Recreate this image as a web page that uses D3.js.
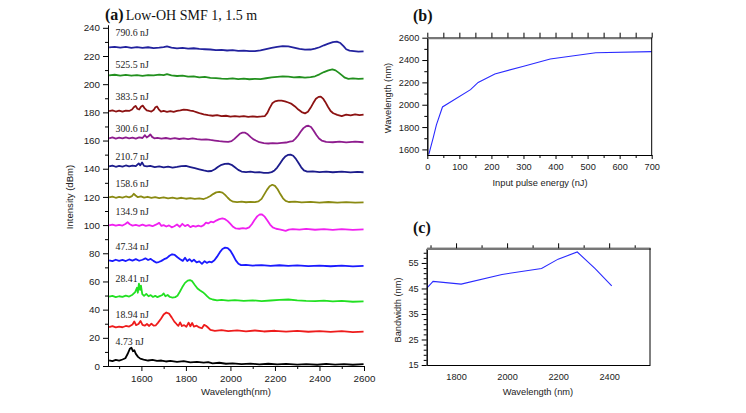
<!DOCTYPE html>
<html>
<head>
<meta charset="utf-8">
<script src="https://cdn.jsdelivr.net/npm/d3@7"></script>
<style>
  html, body { margin: 0; padding: 0; background: #fff; }
  svg { display: block; }
</style>
</head>
<body>
<svg id="chart" width="746" height="413"></svg>
<script>
// ---------------- DATA ----------------
// Panel (a): spectra, [wavelength nm, intensity dBm (offset)]
const energyLabels = ["790.6 nJ","525.5 nJ","383.5 nJ","300.6 nJ","210.7 nJ","158.6 nJ","134.9 nJ","47.34 nJ","28.41 nJ","18.94 nJ","4.73 nJ"];
const labelLevels = [236.4, 213.8, 191.2, 168.6, 148.8, 129.3, 109.4, 84.6, 62.1, 36.9, 17.2];
const seriesColors = ["#22229e","#22901e","#8c1212","#8e1c8e","#1c1c8c","#8a8a12","#f020f0","#1a1aff","#22e022","#ee1c1c","#000000"];

const s790_6 = [[1455,226.1],[1480,226.5],[1505,225.9],[1530,226.4],[1555,225.8],[1580,226.3],[1605,225.7],[1630,226.2],[1655,225.6],[1680,225.9],[1700,226.3],[1715,226.8],[1735,225.9],[1760,225.4],[1785,225.7],[1810,225.2],[1835,225.5],[1860,225.0],[1885,224.8],[1910,224.6],[1935,224.2],[1960,224.4],[1985,223.9],[2010,224.1],[2035,223.6],[2060,223.8],[2085,223.4],[2110,223.4],[2135,224.0],[2160,224.9],[2185,225.8],[2210,226.5],[2235,227.0],[2260,226.8],[2285,226.0],[2310,225.0],[2335,224.5],[2360,224.6],[2380,225.2],[2400,226.2],[2420,227.6],[2440,228.8],[2460,229.8],[2478,230.2],[2494,229.2],[2508,227.0],[2520,224.8],[2535,223.8],[2555,223.5],[2575,223.1],[2598,223.3]];
const s525_5 = [[1455,206.3],[1480,206.7],[1505,206.1],[1530,206.6],[1555,206.0],[1580,206.4],[1605,205.9],[1630,206.5],[1655,206.2],[1680,206.8],[1700,206.4],[1715,207.1],[1735,206.2],[1760,205.8],[1785,206.1],[1810,205.4],[1835,205.6],[1860,204.9],[1885,205.2],[1910,204.5],[1935,204.3],[1960,204.0],[1985,203.8],[2010,204.1],[2035,203.6],[2060,203.9],[2085,203.5],[2110,203.8],[2135,203.6],[2160,204.2],[2185,204.8],[2210,205.2],[2235,205.5],[2260,205.3],[2285,204.9],[2310,205.1],[2335,204.7],[2360,205.0],[2380,205.6],[2400,207.0],[2420,208.6],[2440,209.8],[2458,210.5],[2472,209.8],[2486,208.2],[2500,206.4],[2514,204.6],[2530,203.8],[2550,204.1],[2575,203.7],[2598,203.9]];
const s383_5 = [[1455,180.8],[1470,181.4],[1485,180.6],[1500,181.2],[1515,180.5],[1530,181.3],[1545,181.0],[1558,182.0],[1566,183.6],[1574,184.6],[1582,182.6],[1590,182.0],[1598,184.0],[1606,184.8],[1614,183.0],[1624,181.4],[1634,181.0],[1645,180.6],[1655,181.6],[1663,183.6],[1670,184.2],[1678,182.2],[1688,180.6],[1700,181.0],[1715,180.4],[1730,180.9],[1745,180.3],[1760,181.0],[1775,181.4],[1790,181.9],[1805,181.7],[1820,181.2],[1835,180.8],[1850,180.0],[1865,179.2],[1880,178.6],[1900,178.0],[1920,177.6],[1940,178.0],[1960,177.3],[1980,177.6],[2000,177.0],[2020,177.4],[2040,176.9],[2060,177.3],[2080,176.8],[2100,177.2],[2120,176.8],[2140,177.1],[2155,177.4],[2166,179.6],[2176,183.0],[2188,186.4],[2200,187.8],[2215,188.4],[2230,188.3],[2245,187.8],[2260,187.0],[2275,186.0],[2290,184.2],[2305,182.0],[2320,180.2],[2335,179.3],[2348,180.4],[2360,183.2],[2372,186.6],[2384,189.6],[2396,191.0],[2406,191.2],[2416,189.8],[2426,187.4],[2438,184.0],[2450,181.0],[2462,179.4],[2480,178.2],[2500,177.4],[2520,178.4],[2540,177.8],[2560,178.6],[2580,178.0],[2598,178.4]];
const s300_6 = [[1455,161.6],[1470,162.2],[1485,161.4],[1500,162.1],[1515,161.5],[1530,162.3],[1545,161.6],[1560,162.0],[1575,161.4],[1590,162.2],[1605,161.8],[1616,163.8],[1624,162.2],[1632,163.0],[1640,164.4],[1648,162.6],[1658,161.6],[1672,161.9],[1690,161.3],[1710,161.8],[1730,161.2],[1750,161.7],[1770,161.1],[1790,161.6],[1810,161.0],[1830,161.5],[1850,161.0],[1870,160.6],[1890,160.9],[1910,160.4],[1930,160.0],[1950,159.6],[1970,159.3],[1990,159.0],[2005,159.6],[2018,161.2],[2030,163.0],[2042,164.8],[2054,165.6],[2066,165.6],[2078,164.4],[2090,162.6],[2102,161.0],[2114,160.0],[2130,158.8],[2150,158.2],[2170,157.9],[2190,158.2],[2210,158.0],[2230,158.4],[2250,158.6],[2266,159.2],[2280,159.6],[2292,161.4],[2304,163.6],[2316,166.4],[2328,168.8],[2340,170.2],[2350,170.5],[2362,169.6],[2374,167.0],[2386,164.0],[2398,161.4],[2410,160.0],[2430,159.0],[2460,158.8],[2490,159.3],[2520,158.7],[2560,159.2],[2598,158.8]];
const s210_7 = [[1455,141.6],[1470,142.2],[1485,141.4],[1500,142.0],[1515,141.5],[1530,142.3],[1545,141.6],[1560,142.2],[1575,141.8],[1588,143.8],[1595,142.4],[1603,144.4],[1612,142.0],[1625,141.6],[1640,142.0],[1660,141.2],[1680,141.7],[1700,141.0],[1720,141.5],[1740,140.8],[1760,141.3],[1780,141.9],[1800,142.0],[1820,141.2],[1840,140.4],[1860,139.6],[1880,138.8],[1900,138.2],[1915,138.4],[1930,139.6],[1945,141.4],[1960,142.8],[1975,143.5],[1990,143.6],[2005,142.8],[2020,141.0],[2035,139.2],[2050,138.0],[2070,137.6],[2090,137.9],[2110,137.4],[2130,137.6],[2150,137.1],[2170,137.0],[2185,137.6],[2198,138.8],[2210,140.8],[2222,143.6],[2234,146.4],[2246,148.6],[2258,149.8],[2270,150.0],[2282,149.2],[2294,147.0],[2306,144.0],[2318,141.0],[2330,138.8],[2345,137.9],[2370,138.1],[2400,137.6],[2430,138.0],[2460,137.5],[2500,137.9],[2540,137.4],[2570,137.8],[2598,137.5]];
const s158_6 = [[1455,119.6],[1470,120.2],[1485,119.4],[1500,120.0],[1515,119.5],[1530,120.3],[1545,119.7],[1558,120.6],[1566,122.2],[1574,121.0],[1584,119.8],[1598,120.4],[1612,119.5],[1628,120.1],[1645,119.3],[1662,119.9],[1680,119.2],[1700,119.7],[1720,119.0],[1740,119.5],[1760,118.8],[1780,119.4],[1800,118.7],[1820,119.2],[1840,118.6],[1860,118.9],[1880,118.5],[1895,119.4],[1910,120.6],[1922,122.0],[1936,123.2],[1950,123.6],[1964,123.0],[1976,121.4],[1988,119.4],[2000,117.6],[2012,116.6],[2030,116.3],[2050,116.6],[2070,116.2],[2090,116.5],[2110,116.3],[2126,116.8],[2140,118.6],[2152,121.8],[2164,125.0],[2176,127.6],[2188,128.6],[2200,127.8],[2212,125.4],[2224,122.0],[2236,119.0],[2248,117.2],[2262,116.4],[2290,116.6],[2320,116.1],[2360,116.5],[2400,116.0],[2440,116.4],[2480,115.9],[2520,116.3],[2560,115.9],[2598,116.1]];
const s134_9 = [[1455,99.8],[1470,100.4],[1485,99.6],[1500,100.2],[1515,99.7],[1528,100.8],[1538,102.0],[1548,100.6],[1560,99.6],[1575,100.1],[1590,99.5],[1605,100.3],[1620,99.4],[1635,100.0],[1650,99.2],[1665,100.3],[1680,101.6],[1690,99.4],[1700,100.0],[1712,99.0],[1724,99.8],[1736,98.4],[1748,99.2],[1760,100.4],[1772,98.8],[1784,100.9],[1796,99.3],[1808,100.2],[1820,98.6],[1832,99.4],[1844,98.9],[1856,99.6],[1868,99.0],[1880,100.0],[1890,101.8],[1900,101.2],[1912,102.4],[1924,102.0],[1936,103.2],[1950,104.2],[1964,104.7],[1976,104.2],[1988,102.8],[2000,100.8],[2012,98.8],[2024,97.6],[2040,97.4],[2056,97.8],[2070,97.5],[2084,98.4],[2096,100.6],[2108,103.6],[2120,106.2],[2132,107.6],[2142,107.5],[2154,106.0],[2166,103.2],[2178,100.4],[2190,98.4],[2205,97.4],[2220,97.0],[2235,96.4],[2248,95.9],[2262,96.8],[2280,97.2],[2310,96.8],[2340,97.3],[2380,96.7],[2420,97.2],[2460,96.6],[2500,97.1],[2550,96.6],[2598,96.9]];
const s47_34 = [[1455,75.0],[1470,74.4],[1485,75.4],[1500,74.6],[1515,75.3],[1530,74.5],[1545,75.6],[1560,74.8],[1575,75.8],[1590,74.7],[1605,75.4],[1618,76.4],[1630,75.2],[1642,76.0],[1654,74.6],[1666,73.4],[1678,73.8],[1690,74.6],[1702,75.8],[1714,76.6],[1726,78.2],[1738,79.3],[1750,78.8],[1762,77.2],[1774,75.8],[1786,74.6],[1796,76.8],[1806,74.5],[1816,75.8],[1826,74.2],[1836,75.4],[1848,73.6],[1860,74.2],[1872,72.5],[1884,74.4],[1894,73.2],[1904,74.0],[1916,73.6],[1928,75.0],[1940,77.6],[1952,80.6],[1964,83.0],[1976,84.0],[1988,83.6],[2000,81.8],[2012,78.6],[2024,75.0],[2036,72.6],[2048,71.6],[2070,71.8],[2100,71.3],[2140,71.6],[2180,71.1],[2220,71.5],[2260,71.0],[2300,71.4],[2350,70.9],[2400,71.3],[2450,70.8],[2500,71.2],[2550,70.7],[2598,71.0]];
const s28_41 = [[1455,49.2],[1470,49.8],[1485,48.9],[1500,49.5],[1515,49.0],[1530,49.9],[1545,49.3],[1560,50.6],[1572,52.5],[1580,55.5],[1584,52.0],[1589,58.5],[1594,54.0],[1598,57.0],[1604,51.0],[1612,49.8],[1622,51.2],[1632,49.5],[1642,50.3],[1652,49.0],[1662,49.8],[1672,48.9],[1682,49.6],[1692,50.2],[1700,51.5],[1708,49.5],[1718,50.4],[1728,49.0],[1740,48.6],[1752,48.9],[1762,49.8],[1772,52.5],[1784,56.0],[1796,59.0],[1808,60.6],[1818,61.0],[1828,60.2],[1840,57.5],[1852,55.0],[1864,53.6],[1876,52.4],[1886,51.0],[1896,49.4],[1906,48.0],[1920,47.2],[1940,46.6],[1960,47.0],[1990,46.4],[2020,46.8],[2060,46.2],[2100,46.6],[2140,46.1],[2180,46.5],[2220,46.9],[2260,47.2],[2300,46.6],[2340,46.2],[2380,46.0],[2420,46.4],[2460,45.8],[2500,46.2],[2550,45.6],[2598,45.9]];
const s18_94 = [[1455,27.6],[1470,28.3],[1485,27.4],[1500,28.0],[1515,27.5],[1530,28.4],[1545,28.0],[1560,29.5],[1568,31.6],[1576,29.0],[1587,29.8],[1596,32.0],[1605,29.2],[1615,28.6],[1625,29.8],[1635,28.4],[1645,30.0],[1655,28.6],[1665,28.9],[1675,30.8],[1688,33.5],[1700,36.5],[1712,38.0],[1724,37.2],[1736,34.5],[1748,31.5],[1758,29.8],[1766,28.5],[1774,31.0],[1782,28.4],[1792,29.0],[1802,27.8],[1812,30.8],[1820,28.2],[1828,30.5],[1836,28.0],[1848,28.6],[1860,27.4],[1872,26.8],[1882,29.2],[1890,28.6],[1898,27.5],[1910,25.6],[1930,25.0],[1960,25.4],[1990,24.8],[2030,25.3],[2070,24.6],[2110,25.2],[2150,24.5],[2200,25.0],[2250,24.4],[2300,24.9],[2350,24.3],[2400,24.8],[2450,24.2],[2500,24.7],[2550,24.1],[2598,24.4]];
const s4_73 = [[1455,4.0],[1470,3.4],[1485,4.3],[1500,3.8],[1515,4.6],[1528,5.5],[1538,8.5],[1548,12.2],[1555,13.0],[1562,10.5],[1568,11.2],[1575,8.6],[1585,6.5],[1595,5.2],[1610,4.6],[1630,3.9],[1650,4.4],[1670,3.6],[1690,3.9],[1710,3.2],[1730,3.6],[1760,2.9],[1790,3.4],[1820,2.6],[1850,3.0],[1880,2.4],[1900,2.8],[1920,1.9],[1950,2.3],[1980,1.6],[2010,1.9],[2050,1.3],[2090,1.7],[2130,1.2],[2170,1.6],[2210,1.1],[2250,1.5],[2300,1.0],[2340,1.4],[2390,0.9],[2430,1.5],[2470,1.0],[2510,1.4],[2550,0.9],[2598,1.3]];
const spectra = [s790_6, s525_5, s383_5, s300_6, s210_7, s158_6, s134_9, s47_34, s28_41, s18_94, s4_73];

const aYTicks = [0,20,40,60,80,100,120,140,160,180,200,220,240];
const aXTicks = [1600,1800,2000,2200,2400,2600];

// Panel (b): peak wavelength vs input pulse energy
const pulseEnergy = [4.73, 18.94, 28.41, 47.34, 134.9, 158.6, 210.7, 300.6, 383.5, 525.5, 790.6];
const peakWavelength = [1555, 1710, 1820, 1980, 2135, 2200, 2275, 2345, 2410, 2465, 2480];
const bXTicks = [0,100,200,300,400,500,600,700];
const bYTicks = [1600,1800,2000,2200,2400,2600];

// Panel (c): bandwidth vs wavelength
const cWavelength = [1555, 1710, 1820, 1980, 2135, 2200, 2275, 2345, 2410];
const cBandwidth = [31, 47.8, 46.7, 50.5, 52.8, 56.5, 59.3, 52.8, 46];
const cXTicks = [1800,2000,2200,2400];
const cYTicks = [15,25,35,45,55];

// ---------------- DRAW ----------------
const svg = d3.select("#chart");
const sans = '"Liberation Sans", Arial, sans-serif';
const serif = '"Liberation Serif", "Times New Roman", serif';
const fmt = d3.format("d");

function styleAxis(g, fs) {
  g.selectAll("path.domain").attr("stroke", "#000").attr("stroke-width", 1);
  g.selectAll(".tick line").attr("stroke", "#000");
  g.selectAll(".tick text").style("font-size", fs + "px").style("font-family", sans).attr("fill", "#222");
}
const noLabel = () => "";

// ===== Panel (a) =====
const xA = d3.scaleLinear().domain([1450, 2600]).range([108, 364]);
const yA = d3.scaleLinear().domain([0, 242]).range([366, 25]);

const lineA = d3.line().x(d => xA(d[0])).y(d => yA(d[1]));
svg.append("g").selectAll("path").data(spectra).join("path")
  .attr("d", lineA)
  .attr("fill", "none")
  .attr("stroke", (d, i) => seriesColors[i])
  .attr("stroke-width", 1.8)
  .attr("stroke-linejoin", "round");

const aYMinor = d3.range(10, 241, 20);
svg.append("g").attr("transform", "translate(108,0)")
  .call(d3.axisLeft(yA).tickValues(aYMinor).tickSize(3).tickFormat(noLabel).tickSizeOuter(0))
  .call(g => styleAxis(g, 10));
svg.append("g").attr("transform", "translate(108,0)")
  .call(d3.axisLeft(yA).tickValues(aYTicks).tickSize(5).tickPadding(3).tickFormat(fmt).tickSizeOuter(0))
  .call(g => styleAxis(g, 9.8));
const aXMinor = [1500,1700,1900,2100,2300,2500];
svg.append("g").attr("transform", "translate(0,366)")
  .call(d3.axisBottom(xA).tickValues(aXMinor).tickSize(3).tickFormat(noLabel).tickSizeOuter(0))
  .call(g => styleAxis(g, 10));
svg.append("g").attr("transform", "translate(0,366)")
  .call(d3.axisBottom(xA).tickValues(aXTicks).tickSize(5).tickPadding(4).tickFormat(fmt).tickSizeOuter(0))
  .call(g => styleAxis(g, 9.8));

svg.append("g").selectAll("text").data(energyLabels).join("text")
  .attr("x", xA(1484))
  .attr("y", (d, i) => yA(labelLevels[i]) + 3.5)
  .attr("font-family", serif).attr("font-size", 9.8).attr("fill", "#222")
  .text(d => d);

svg.append("text").attr("x", 236).attr("y", 395).attr("text-anchor", "middle")
  .attr("font-family", sans).attr("font-size", 9.6).attr("fill", "#222").text("Wavelength(nm)");
svg.append("text").attr("transform", "translate(73,197) rotate(-90)").attr("text-anchor", "middle")
  .attr("font-family", sans).attr("font-size", 9.6).attr("fill", "#222").text("Intensity (dBm)");

const tA = svg.append("text").attr("x", 105).attr("y", 19.5).attr("font-family", serif).attr("fill", "#111");
tA.append("tspan").attr("font-weight", "bold").attr("font-size", 16).text("(a)");
tA.append("tspan").attr("font-size", 14).attr("dx", 2).text("Low-OH SMF 1, 1.5 m");

// ===== Panel (b) =====
const xB = d3.scaleLinear().domain([0, 700]).range([427.3, 651.7]);
const yB = d3.scaleLinear().domain([1550, 2600]).range([155, 37.7]);
svg.append("defs").append("clipPath").attr("id", "clipB")
  .append("rect").attr("x", 427.3).attr("y", 37.7).attr("width", 224.4).attr("height", 117.3);

svg.append("path")
  .datum(pulseEnergy.map((e, i) => [e, peakWavelength[i]]))
  .attr("clip-path", "url(#clipB)")
  .attr("d", d3.line().x(d => xB(d[0])).y(d => yB(d[1])))
  .attr("fill", "none").attr("stroke", "#2a2aff").attr("stroke-width", 1.1);

const bXMinor = [50,150,250,350,450,550,650];
const bYMinor = [1700,1900,2100,2300,2500];
svg.append("g").attr("transform", "translate(427.3,0)")
  .call(d3.axisLeft(yB).tickValues(bYMinor).tickSize(3).tickFormat(noLabel).tickSizeOuter(0))
  .call(g => styleAxis(g, 9));
svg.append("g").attr("transform", "translate(427.3,0)")
  .call(d3.axisLeft(yB).tickValues(bYTicks).tickSize(5).tickPadding(3).tickFormat(fmt).tickSizeOuter(0))
  .call(g => styleAxis(g, 9.2));
svg.append("g").attr("transform", "translate(0,155)")
  .call(d3.axisBottom(xB).tickValues(bXMinor).tickSize(3).tickFormat(noLabel).tickSizeOuter(0))
  .call(g => styleAxis(g, 9));
svg.append("g").attr("transform", "translate(0,155)")
  .call(d3.axisBottom(xB).tickValues(bXTicks).tickSize(4).tickPadding(4).tickFormat(fmt).tickSizeOuter(0))
  .call(g => styleAxis(g, 9.2));
svg.append("g").attr("transform", "translate(0,37.7)")
  .call(d3.axisTop(xB).tickValues(bXTicks.concat(bXMinor)).tickSize(5).tickFormat(noLabel).tickSizeOuter(0))
  .call(g => styleAxis(g, 9))
  .call(g => g.select("path.domain").attr("stroke", "#777").attr("stroke-width", 2.2));
svg.append("line").attr("x1", 651.7).attr("x2", 651.7).attr("y1", 37.7).attr("y2", 155).attr("stroke", "#000");

svg.append("text").attr("x", 540).attr("y", 186).attr("text-anchor", "middle")
  .attr("font-family", sans).attr("font-size", 9.3).attr("fill", "#222").text("Input pulse energy (nJ)");
svg.append("text").attr("transform", "translate(391,98) rotate(-90)").attr("text-anchor", "middle")
  .attr("font-family", sans).attr("font-size", 9.3).attr("fill", "#222").text("Wavelength (nm)");
svg.append("text").attr("x", 413).attr("y", 20.5).attr("font-family", serif).attr("font-weight", "bold")
  .attr("font-size", 16).attr("fill", "#111").text("(b)");

// ===== Panel (c) =====
const xC = d3.scaleLinear().domain([1685, 2560]).range([426.7, 650]);
const yC = d3.scaleLinear().domain([15, 60.75]).range([365, 248.3]);
svg.append("defs").append("clipPath").attr("id", "clipC")
  .append("rect").attr("x", 426.7).attr("y", 248.3).attr("width", 223.3).attr("height", 116.7);

svg.append("path")
  .datum(cWavelength.map((w, i) => [w, cBandwidth[i]]))
  .attr("clip-path", "url(#clipC)")
  .attr("d", d3.line().x(d => xC(d[0])).y(d => yC(d[1])))
  .attr("fill", "none").attr("stroke", "#2a2aff").attr("stroke-width", 1.1);

const cYMinor = d3.range(17, 60, 2).filter(v => (v - 15) % 10 !== 0);
const cXMinor = [1700,1900,2100,2300,2500];
svg.append("g").attr("transform", "translate(426.7,0)")
  .call(d3.axisLeft(yC).tickValues(cYMinor).tickSize(3).tickFormat(noLabel).tickSizeOuter(0))
  .call(g => styleAxis(g, 9));
svg.append("g").attr("transform", "translate(426.7,0)")
  .call(d3.axisLeft(yC).tickValues(cYTicks).tickSize(5).tickPadding(3).tickFormat(fmt).tickSizeOuter(0))
  .call(g => styleAxis(g, 9.2));
svg.append("g").attr("transform", "translate(0,365)")
  .call(d3.axisBottom(xC).tickValues(cXTicks).tickSize(0).tickPadding(8).tickFormat(fmt).tickSizeOuter(0))
  .call(g => styleAxis(g, 9.2));
svg.append("g").attr("transform", "translate(0,248.3)")
  .call(d3.axisTop(xC).tickValues(cXMinor).tickSize(3).tickFormat(noLabel).tickSizeOuter(0))
  .call(g => styleAxis(g, 9))
  .call(g => g.select("path.domain").attr("stroke", "#777").attr("stroke-width", 2.2));
svg.append("g").attr("transform", "translate(0,248.3)")
  .call(d3.axisTop(xC).tickValues(cXTicks).tickSize(5).tickFormat(noLabel).tickSizeOuter(0))
  .call(g => styleAxis(g, 9))
  .call(g => g.select("path.domain").attr("stroke", "#777").attr("stroke-width", 2.2));
svg.append("line").attr("x1", 650).attr("x2", 650).attr("y1", 248.3).attr("y2", 365).attr("stroke", "#000");

svg.append("text").attr("x", 538).attr("y", 395).attr("text-anchor", "middle")
  .attr("font-family", sans).attr("font-size", 9.3).attr("fill", "#222").text("Wavelength (nm)");
svg.append("text").attr("transform", "translate(401,310) rotate(-90)").attr("text-anchor", "middle")
  .attr("font-family", sans).attr("font-size", 9.3).attr("fill", "#222").text("Bandwidth (nm)");
svg.append("text").attr("x", 413).attr("y", 233).attr("font-family", serif).attr("font-weight", "bold")
  .attr("font-size", 16).attr("fill", "#111").text("(c)");
</script>
</body>
</html>
